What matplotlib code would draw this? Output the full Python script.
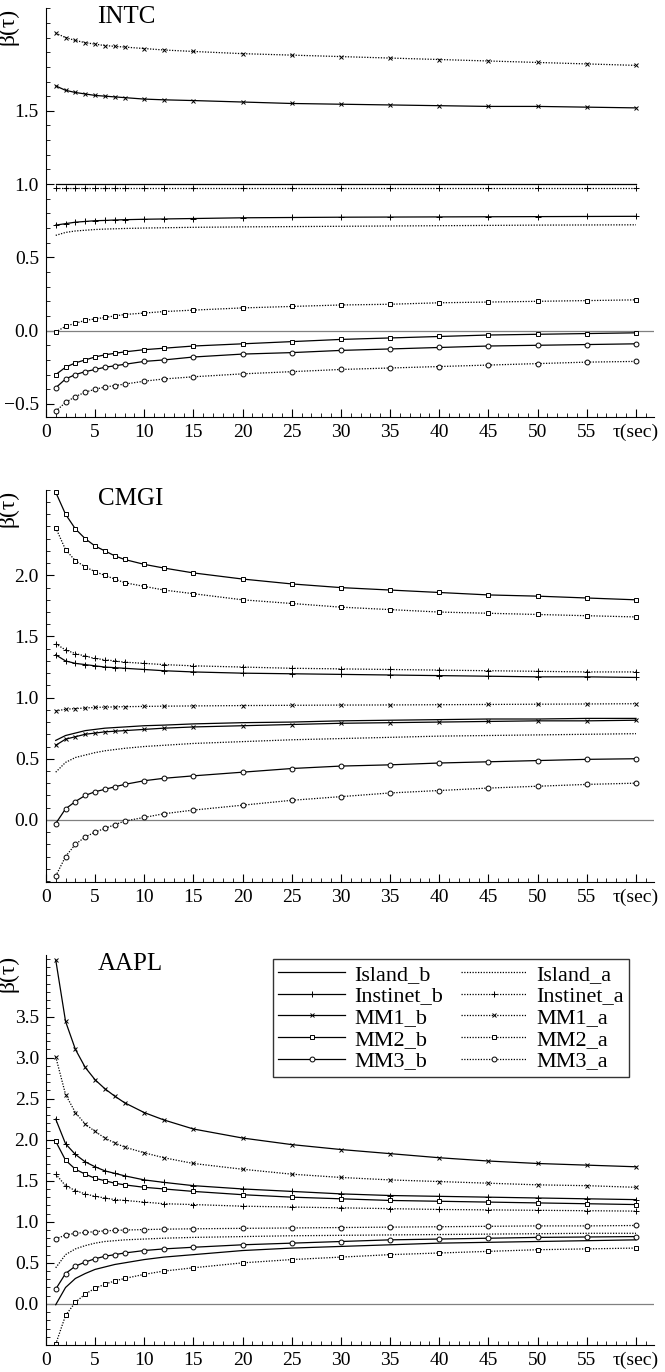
import matplotlib.pyplot as plt
import numpy as np
from matplotlib.ticker import MultipleLocator

plt.rcParams['font.family'] = ['Liberation Serif', 'DejaVu Serif']

tau = [1, 2, 3, 4, 5, 6, 7, 8, 10, 12, 15, 20, 25, 30, 35, 40, 45, 50, 55, 60]
names = ['Island', 'Instinet', 'MM1', 'MM2', 'MM3']

# INTC
intc_b = {
    'Island': [1.0] * 20,
    'Instinet': [0.72, 0.73, 0.74, 0.745, 0.75, 0.752, 0.755, 0.757, 0.76, 0.762, 0.765, 0.77, 0.772, 0.774, 0.775, 0.776, 0.777, 0.778, 0.779, 0.78],
    'MM1': [1.67, 1.64, 1.625, 1.615, 1.605, 1.60, 1.595, 1.59, 1.58, 1.575, 1.57, 1.56, 1.55, 1.545, 1.54, 1.535, 1.53, 1.53, 1.525, 1.52],
    'MM2': [-0.30, -0.25, -0.22, -0.20, -0.18, -0.165, -0.155, -0.145, -0.13, -0.12, -0.105, -0.09, -0.075, -0.06, -0.05, -0.04, -0.03, -0.025, -0.02, -0.015],
    'MM3': [-0.39, -0.33, -0.30, -0.28, -0.265, -0.25, -0.24, -0.23, -0.21, -0.20, -0.18, -0.16, -0.15, -0.135, -0.125, -0.115, -0.105, -0.10, -0.095, -0.09],
}
intc_a = {
    'Island': [0.65, 0.67, 0.68, 0.685, 0.69, 0.693, 0.695, 0.697, 0.70, 0.702, 0.705, 0.708, 0.71, 0.712, 0.714, 0.716, 0.718, 0.72, 0.721, 0.722],
    'Instinet': [0.97] * 20,
    'MM1': [2.03, 2.00, 1.98, 1.965, 1.955, 1.945, 1.94, 1.935, 1.925, 1.915, 1.905, 1.89, 1.88, 1.87, 1.86, 1.85, 1.84, 1.83, 1.82, 1.81],
    'MM2': [-0.01, 0.03, 0.05, 0.07, 0.08, 0.09, 0.10, 0.11, 0.12, 0.13, 0.14, 0.155, 0.165, 0.175, 0.18, 0.19, 0.195, 0.20, 0.205, 0.21],
    'MM3': [-0.55, -0.49, -0.45, -0.42, -0.40, -0.385, -0.375, -0.365, -0.345, -0.33, -0.315, -0.295, -0.28, -0.265, -0.255, -0.245, -0.235, -0.225, -0.215, -0.21],
}

# CMGI
cmgi_b = {
    'Island': [0.65, 0.69, 0.71, 0.73, 0.74, 0.75, 0.755, 0.76, 0.77, 0.775, 0.785, 0.795, 0.80, 0.81, 0.815, 0.82, 0.825, 0.825, 0.83, 0.83],
    'Instinet': [1.35, 1.30, 1.28, 1.27, 1.26, 1.25, 1.245, 1.24, 1.23, 1.22, 1.21, 1.20, 1.195, 1.19, 1.185, 1.18, 1.175, 1.17, 1.17, 1.165],
    'MM1': [0.61, 0.66, 0.68, 0.70, 0.71, 0.72, 0.725, 0.73, 0.74, 0.75, 0.76, 0.77, 0.78, 0.79, 0.795, 0.80, 0.805, 0.81, 0.81, 0.815],
    'MM2': [2.68, 2.50, 2.38, 2.30, 2.24, 2.20, 2.16, 2.13, 2.09, 2.06, 2.02, 1.97, 1.93, 1.90, 1.88, 1.86, 1.84, 1.83, 1.815, 1.80],
    'MM3': [-0.03, 0.09, 0.15, 0.20, 0.23, 0.25, 0.27, 0.29, 0.32, 0.34, 0.36, 0.39, 0.42, 0.44, 0.45, 0.465, 0.475, 0.485, 0.495, 0.50],
}
cmgi_a = {
    'Island': [0.39, 0.47, 0.51, 0.53, 0.55, 0.565, 0.575, 0.585, 0.60, 0.61, 0.625, 0.64, 0.655, 0.665, 0.675, 0.685, 0.69, 0.695, 0.70, 0.705],
    'Instinet': [1.44, 1.39, 1.36, 1.34, 1.32, 1.31, 1.30, 1.29, 1.28, 1.27, 1.26, 1.25, 1.24, 1.235, 1.23, 1.225, 1.22, 1.215, 1.21, 1.21],
    'MM1': [0.89, 0.905, 0.91, 0.915, 0.92, 0.922, 0.924, 0.926, 0.928, 0.93, 0.932, 0.935, 0.937, 0.939, 0.94, 0.942, 0.944, 0.946, 0.948, 0.95],
    'MM2': [2.39, 2.21, 2.12, 2.07, 2.03, 2.00, 1.97, 1.94, 1.91, 1.88, 1.85, 1.80, 1.77, 1.74, 1.72, 1.70, 1.69, 1.68, 1.67, 1.66],
    'MM3': [-0.46, -0.30, -0.20, -0.14, -0.10, -0.07, -0.04, -0.01, 0.02, 0.05, 0.08, 0.12, 0.16, 0.19, 0.22, 0.24, 0.26, 0.275, 0.29, 0.30],
}

# AAPL
aapl_b = {
    'Island': [-0.01, 0.20, 0.31, 0.37, 0.42, 0.45, 0.48, 0.50, 0.54, 0.57, 0.60, 0.65, 0.68, 0.70, 0.72, 0.74, 0.75, 0.76, 0.77, 0.78],
    'Instinet': [2.25, 1.95, 1.82, 1.73, 1.67, 1.62, 1.59, 1.56, 1.51, 1.48, 1.44, 1.40, 1.37, 1.34, 1.32, 1.31, 1.30, 1.29, 1.28, 1.27],
    'MM1': [4.19, 3.44, 3.10, 2.88, 2.73, 2.62, 2.53, 2.45, 2.33, 2.24, 2.13, 2.02, 1.94, 1.88, 1.83, 1.78, 1.74, 1.71, 1.69, 1.67],
    'MM2': [1.98, 1.75, 1.64, 1.58, 1.53, 1.50, 1.47, 1.45, 1.42, 1.40, 1.37, 1.33, 1.30, 1.28, 1.26, 1.25, 1.24, 1.23, 1.22, 1.21],
    'MM3': [0.18, 0.37, 0.46, 0.51, 0.55, 0.58, 0.60, 0.62, 0.65, 0.67, 0.69, 0.72, 0.74, 0.76, 0.78, 0.79, 0.80, 0.81, 0.815, 0.82],
}
aapl_a = {
    'Island': [0.44, 0.60, 0.67, 0.71, 0.74, 0.76, 0.77, 0.78, 0.79, 0.80, 0.81, 0.82, 0.83, 0.835, 0.84, 0.845, 0.85, 0.855, 0.86, 0.86],
    'Instinet': [1.58, 1.44, 1.38, 1.34, 1.31, 1.29, 1.27, 1.26, 1.24, 1.22, 1.21, 1.19, 1.18, 1.17, 1.16, 1.15, 1.145, 1.14, 1.135, 1.13],
    'MM1': [3.01, 2.55, 2.33, 2.19, 2.10, 2.02, 1.96, 1.91, 1.84, 1.78, 1.71, 1.64, 1.58, 1.54, 1.51, 1.49, 1.47, 1.45, 1.44, 1.42],
    'MM2': [-0.49, -0.14, 0.02, 0.12, 0.19, 0.24, 0.28, 0.31, 0.36, 0.40, 0.44, 0.50, 0.54, 0.57, 0.60, 0.62, 0.64, 0.66, 0.67, 0.68],
    'MM3': [0.79, 0.84, 0.86, 0.87, 0.88, 0.89, 0.895, 0.90, 0.905, 0.91, 0.915, 0.92, 0.925, 0.93, 0.935, 0.94, 0.945, 0.95, 0.95, 0.955],
}

markers = {'Island': None, 'Instinet': '+', 'MM1': 'x', 'MM2': 's', 'MM3': 'o'}
msizes = {'Island': 0, 'Instinet': 4, 'MM1': 3.5, 'MM2': 3.5, 'MM3': 3.5}

panels = [
    ('INTC', intc_b, intc_a, (-0.59, 2.2), [-0.5, 0.0, 0.5, 1.0, 1.5], [0.994, 0.696]),
    ('CMGI', cmgi_b, cmgi_a, (-0.51, 2.7), [0.0, 0.5, 1.0, 1.5, 2.0], [0.643, 0.357]),
    ('AAPL', aapl_b, aapl_a, (-0.5, 4.25), [0.0, 0.5, 1.0, 1.5, 2.0, 2.5, 3.0, 3.5], [0.304, 0.0197]),
]

fig = plt.figure(figsize=(6.65, 13.72), dpi=100)

for title, bdata, adata, ylim, yticks, (top, bot) in panels:
    ax = fig.add_axes([0.069, bot, 0.914, top - bot])
    ax.axhline(0, color='grey', lw=0.9)
    handles_b, handles_a = [], []
    for side, data, ls in [('b', bdata, '-'), ('a', adata, (0, (1, 1.2)))]:
        for n in names:
            h, = ax.plot(tau, data[n], ls=ls, color='black', lw=0.9,
                         marker=markers[n], ms=msizes[n], mfc='white',
                         mec='black', mew=0.7, label=f'{n}_{side}')
            (handles_b if side == 'b' else handles_a).append(h)
    ax.set_xlim(0, 61.8)
    ax.set_ylim(*ylim)
    ax.xaxis.set_minor_locator(MultipleLocator(1))
    ax.yaxis.set_minor_locator(MultipleLocator(0.1))
    ax.set_xticks(range(0, 61, 5))
    ax.set_xticklabels([str(v) for v in range(0, 60, 5)] + ['\u03c4(sec)'])
    ax.set_yticks(yticks)
    ax.set_yticklabels([f'{v:.1f}'.replace('-', '\u2212') for v in yticks])
    ax.tick_params(direction='in', labelsize=14, length=6, pad=5)
    ax.tick_params(which='minor', direction='in', length=3)
    for s in ['top', 'right']:
        ax.spines[s].set_visible(False)
    ax.text(0.085, 1.005, title, transform=ax.transAxes, fontsize=18,
            va='top', ha='left')
    ax.text(-0.062, 1.0, '\u03b2(\u03c4)', transform=ax.transAxes,
            fontsize=17, rotation=90, va='top', ha='center')
    if title == 'AAPL':
        allh = handles_b + handles_a
        leg = ax.legend(allh, [h.get_label() for h in allh],
                        ncol=2, loc='upper right', bbox_to_anchor=(0.96, 0.99),
                        fontsize=16, frameon=True, fancybox=False, edgecolor='black',
                        handlelength=3.0, labelspacing=0.05, columnspacing=0.8,
                        handletextpad=0.4, borderpad=0.25, borderaxespad=0)
        leg.get_frame().set_linewidth(1.0)

plt.savefig('out.png', dpi=100)
